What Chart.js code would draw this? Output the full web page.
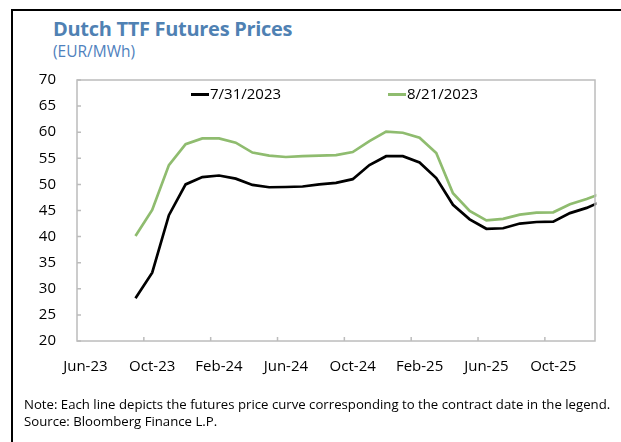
<!DOCTYPE html>
<html>
<head>
<meta charset="utf-8">
<script src="https://cdn.jsdelivr.net/npm/chart.js@4"></script>
<style>
  html, body { margin: 0; padding: 0; background: #fff; }
  body { width: 621px; height: 442px; position: relative; overflow: hidden; font-family: "Open Sans", sans-serif; }
  #frame { position: absolute; left: 11px; top: 9px; width: 700px; height: 500px; border-left: 2.5px solid #000; border-top: 2.5px solid #000; }
  #title { position: absolute; left: 53px; top: 15px; font-size: 20px; line-height: normal; font-weight: 700; color: #4f81b3; white-space: nowrap; letter-spacing: -0.3px; }
  #unit { position: absolute; left: 53px; top: 40px; font-size: 15.5px; line-height: normal; color: #4f81bd; white-space: nowrap; }
  #wrap { position: absolute; left: 0; top: 0; width: 621px; height: 442px; }
  .leg { position: absolute; top: 83px; font-size: 15px; color: #000; white-space: nowrap; }
  .leg i { display: inline-block; width: 18px; height: 3px; vertical-align: middle; margin-right: 1px; }
  #note { position: absolute; left: 24px; top: 396px; font-size: 13.2px; line-height: 17px; color: #000; white-space: nowrap; }
</style>
</head>
<body>
<div id="frame"></div>
<div id="title">Dutch TTF Futures Prices</div>
<div id="unit">(EUR/MWh)</div>
<div id="wrap"><canvas id="chart"></canvas></div>
<div id="legend"></div>
<div id="note">Note: Each line depicts the futures price curve corresponding to the contract date in the legend.<br>Source: Bloomberg Finance L.P.</div>
<script>
// mois (le dernier point, Jan-26, est coupé par le bord du graphique)
var months = ["Jun-23","Jul-23","Aug-23","Sep-23","Oct-23","Nov-23","Dec-23",
  "Jan-24","Feb-24","Mar-24","Apr-24","May-24","Jun-24","Jul-24","Aug-24","Sep-24","Oct-24","Nov-24","Dec-24",
  "Jan-25","Feb-25","Mar-25","Apr-25","May-25","Jun-25","Jul-25","Aug-25","Sep-25","Oct-25","Nov-25","Dec-25",
  "Jan-26"];

var curveJul31 = [null, null, null, 28.2, 33.1, 44.1, 50.0,
  51.4, 51.7, 51.1, 49.9, 49.45, 49.5, 49.6, 50.0, 50.3, 51.0, 53.7, 55.4,
  55.4, 54.2, 51.2, 46.1, 43.3, 41.5, 41.6, 42.5, 42.8, 42.85, 44.5, 45.5,
  46.9];

var curveAug21 = [null, null, null, 40.1, 45.1, 53.7, 57.7,
  58.8, 58.8, 58.0, 56.1, 55.5, 55.25, 55.4, 55.5, 55.6, 56.2, 58.3, 60.1,
  59.9, 58.95, 56.0, 48.3, 44.9, 43.1, 43.4, 44.2, 44.6, 44.65, 46.2, 47.2,
  48.4];

var yTicks = [20, 25, 30, 35, 40, 45, 50, 55, 60, 65, 70];
var lastShown = "Dec-25";

var seriesNames = ["7/31/2023", "8/21/2023"];
var colors = ["#000000", "#8fbc6f"];

// cadre gris + petites graduations vers l'intérieur
var plotBox = {
  id: 'plotBox',
  afterDraw: function(chart) {
    var ctx = chart.ctx, a = chart.chartArea;
    var x = chart.scales.x, y = chart.scales.y;
    ctx.save();
    ctx.strokeStyle = "#bcbcbc";
    ctx.lineWidth = 1.5;
    ctx.strokeRect(a.left, a.top, a.right - a.left, a.bottom - a.top);
    ctx.beginPath();
    yTicks.forEach(function(v) {
      var py = y.getPixelForValue(v);
      ctx.moveTo(a.left, py); ctx.lineTo(a.left + 4, py);
    });
    var half = (x.getPixelForValue(1) - x.getPixelForValue(0)) / 2;
    for (var i = 4; i < months.indexOf(lastShown); i += 4) {
      var px = x.getPixelForValue(i) - half;
      ctx.moveTo(px, a.bottom); ctx.lineTo(px, a.bottom - 4);
    }
    ctx.stroke();
    ctx.restore();
  }
};

var chart = new Chart(document.getElementById("chart"), {
  type: 'line',
  data: {
    labels: months,
    datasets: [
      { label: seriesNames[0], data: curveJul31, borderColor: colors[0], backgroundColor: colors[0], borderWidth: 2.7 },
      { label: seriesNames[1], data: curveAug21, borderColor: colors[1], backgroundColor: colors[1], borderWidth: 2.7 }
    ]
  },
  options: {
    responsive: true,
    maintainAspectRatio: false,
    animation: false,
    layout: { padding: { left: 0, top: 80, right: 26, bottom: 51 } },
    elements: { point: { radius: 0 }, line: { tension: 0 } },
    plugins: { legend: { display: false }, tooltip: { enabled: false } },
    scales: {
      x: {
        type: 'category',
        offset: true,
        // l'axe s'arrête à Dec-25, la ligne continue vers Jan-26 et est coupée
        afterDataLimits: function(s) { s.max = months.indexOf(lastShown); },
        grid: { display: false },
        border: { display: false },
        afterFit: function(s) { s.height = 50; },
        ticks: {
          autoSkip: false, maxRotation: 0, padding: 9,
          color: "#000", font: { family: "Open Sans", size: 15 },
          callback: function(v, i) { return i % 4 === 0 ? months[i] : ""; }
        }
      },
      y: {
        min: 20, max: 70,
        grid: { display: false },
        border: { display: false },
        afterFit: function(s) { s.width = 77; },
        ticks: { stepSize: 5, padding: 13, color: "#000", font: { family: "Open Sans", size: 15 } }
      }
    }
  },
  plugins: [plotBox]
});

// légende dans la zone du graphique
var legend = document.getElementById("legend");
var legLeft = [191, 388];
seriesNames.forEach(function(n, k) {
  var d = document.createElement("div");
  d.className = "leg";
  d.style.left = legLeft[k] + "px";
  d.innerHTML = '<i style="background:' + colors[k] + '"></i>' + n;
  legend.appendChild(d);
});
</script>
</body>
</html>
